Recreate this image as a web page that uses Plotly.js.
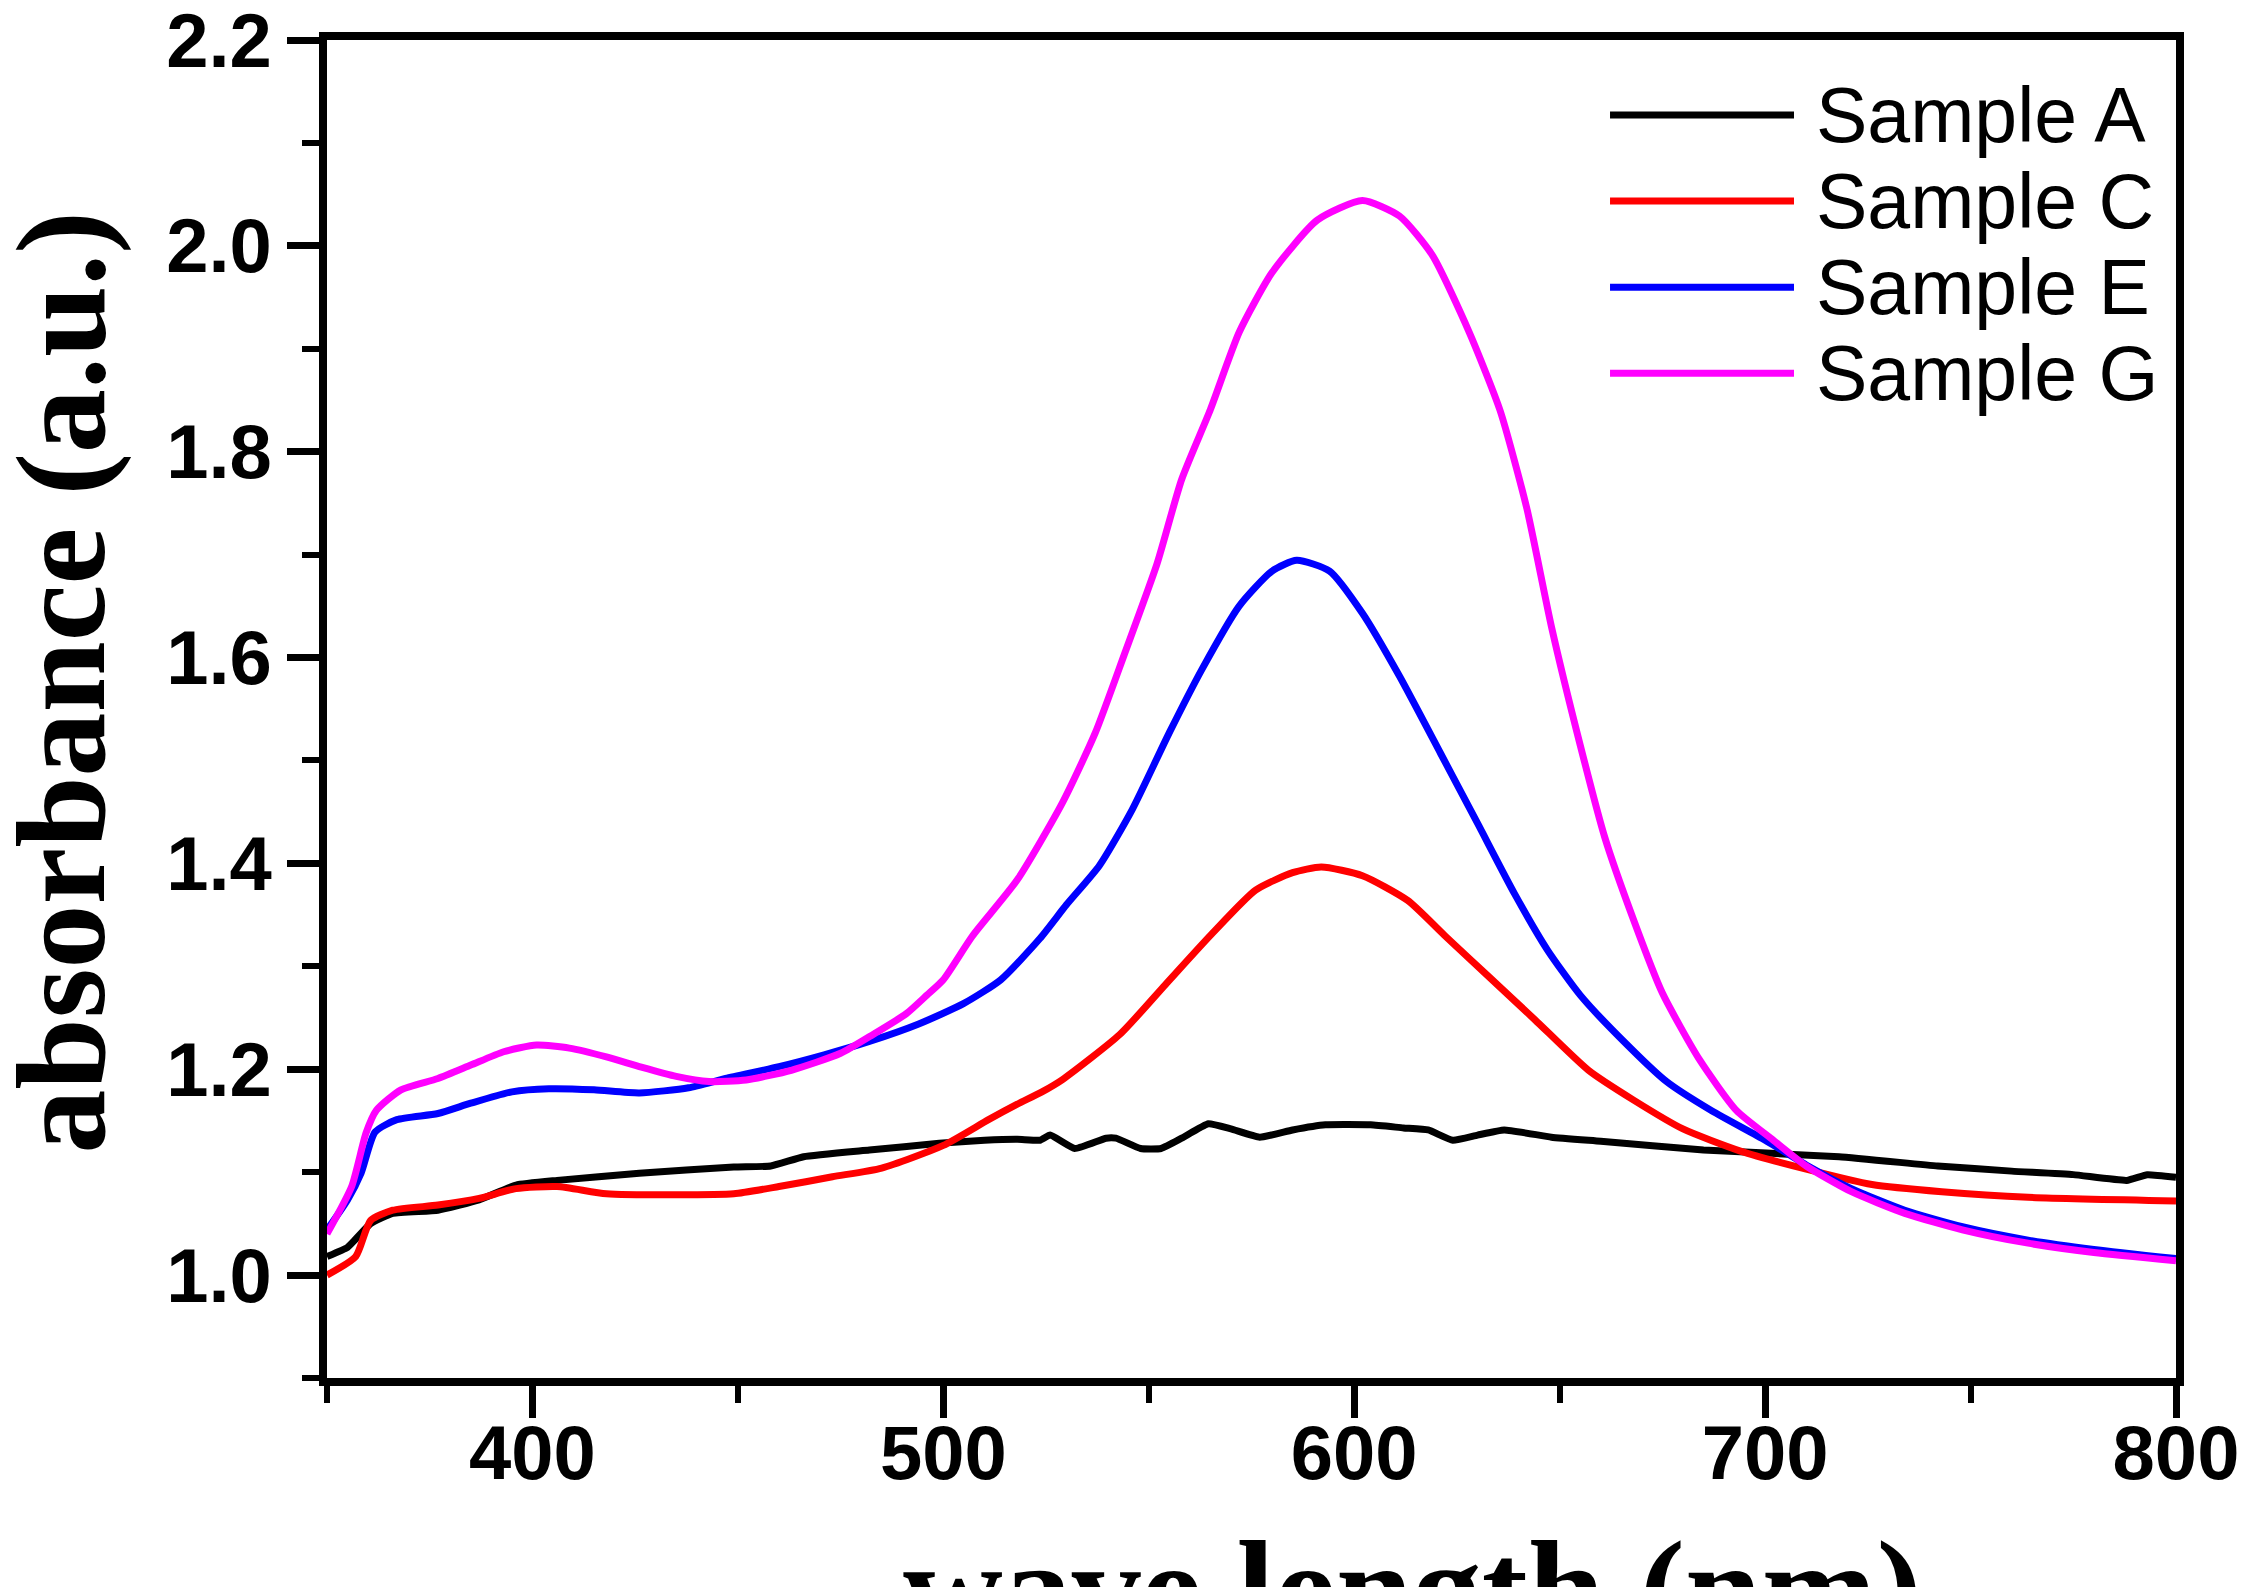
<!DOCTYPE html>
<html>
<head>
<meta charset="utf-8">
<script src="https://cdn.plot.ly/plotly-3.0.1.min.js"></script>
<style>
  html, body { margin: 0; padding: 0; background: #ffffff; }
  #chart { width: 2246px; height: 1587px; }
</style>
</head>
<body>
<div id="chart"></div>
<script>
// UV-Vis absorbance spectra of four samples
const seriesNames  = ['Sample A', 'Sample C', 'Sample E', 'Sample G'];
const seriesColors = ['#000000', '#ff0000', '#0000ff', '#ff00ff'];

// Sample A
const wlA  = [350, 355, 357, 360.6, 366, 377, 387, 396, 406, 426, 449, 458, 466, 482, 499, 510, 518, 523.5, 526, 532,
              539.6, 542, 548, 553, 558, 564.5, 570, 577, 585, 593, 604, 612, 618, 624, 630, 636.5, 648, 660, 685, 718,
              742, 760, 775, 788, 793, 800];
const absA = [1.018, 1.027, 1.035, 1.050, 1.060, 1.063, 1.073, 1.0875, 1.092, 1.099, 1.105, 1.106, 1.115, 1.1215, 1.128,
              1.131, 1.132, 1.131, 1.136, 1.123, 1.133, 1.133, 1.123, 1.123, 1.133, 1.147, 1.142, 1.134, 1.141, 1.146,
              1.146, 1.143, 1.141, 1.131, 1.136, 1.141, 1.134, 1.130, 1.1215, 1.115, 1.106, 1.101, 1.0976, 1.092, 1.0975,
              1.095];

// Sample C
const wlC  = [350, 357, 360.6, 366, 377, 387, 396, 406, 418, 435, 449, 460, 473, 485, 500, 511, 518, 524, 529, 543,
              554, 565, 576, 585, 592, 602, 613, 622, 633, 644, 657, 668, 680, 694, 710, 726, 743, 764, 800];
const absC = [1.000, 1.018, 1.053, 1.063, 1.068, 1.0745, 1.084, 1.086, 1.079, 1.078, 1.079, 1.086, 1.0955, 1.104, 1.126,
              1.151, 1.166, 1.178, 1.190, 1.234, 1.282, 1.330, 1.374, 1.391, 1.3965, 1.388, 1.364, 1.330, 1.289, 1.248,
              1.199, 1.170, 1.142, 1.1205, 1.103, 1.088, 1.081, 1.0755, 1.072];

// Sample E
const wlE  = [350, 355, 358.3, 361.7, 367, 377, 385, 395, 404, 415, 426, 438, 447, 460, 471, 482, 494, 505, 514, 523.5,
              530, 538, 546, 555, 563, 572, 580, 586, 594, 602, 611, 621, 630, 639, 647, 655, 665.5, 676, 687, 700,
              710, 721, 734, 748, 764, 780, 800];
const absE = [1.044, 1.073, 1.099, 1.139, 1.151, 1.157, 1.167, 1.178, 1.181, 1.180, 1.177, 1.182, 1.191, 1.2025, 1.214,
              1.227, 1.244, 1.264, 1.287, 1.327, 1.36, 1.398, 1.4525, 1.527, 1.589, 1.650, 1.684, 1.6945, 1.684, 1.643,
              1.582, 1.507, 1.439, 1.3706, 1.316, 1.272, 1.2274, 1.188, 1.1596, 1.131, 1.107, 1.084, 1.063, 1.047, 1.034,
              1.025, 1.016];

// Sample G
const wlG  = [350, 356, 359.5, 362, 368, 377, 385, 393, 401, 409, 418, 426.5, 435, 443, 452, 463, 475, 483, 491, 496,
              500, 507, 518, 529, 537, 544, 552, 558, 565, 572, 580, 591, 602, 611, 619, 628, 635.5, 642, 648, 655,
              661, 668, 675, 684, 693, 702, 710, 721, 734, 748, 764, 780, 800];
const absG = [1.04, 1.086, 1.138, 1.160, 1.180, 1.191, 1.204, 1.217, 1.2235, 1.2205, 1.212, 1.202, 1.193, 1.188, 1.1895,
              1.199, 1.2155, 1.234, 1.254, 1.272, 1.287, 1.329, 1.384, 1.459, 1.527, 1.6025, 1.691, 1.773, 1.841, 1.916,
              1.974, 2.025, 2.044, 2.029, 1.991, 1.916, 1.84, 1.745, 1.63, 1.515, 1.425, 1.345, 1.274, 1.2095, 1.16,
              1.131, 1.106, 1.081, 1.060, 1.044, 1.031, 1.022, 1.014];

// Axis ticks
const xTickVals = [400, 500, 600, 700, 800];
const yTickVals = [1.0, 1.2, 1.4, 1.6, 1.8, 2.0, 2.2];

const xTitle = 'wave length (nm)';
const yTitle = 'absorbance (a.u.)';

const wavelengths = [wlA, wlC, wlE, wlG];
const absorbances = [absA, absC, absE, absG];

const traces = seriesNames.map((name, i) => ({
  type: 'scatter',
  mode: 'lines',
  name: name,
  x: wavelengths[i],
  y: absorbances[i],
  line: {
    color: seriesColors[i],
    width: 7,
    shape: 'spline',
    smoothing: i === 0 ? 0.4 : 0.6
  },
  showlegend: false,
  hoverinfo: 'x+y+name'
}));

const tickFont = { family: '"Liberation Sans", Arial, sans-serif', size: 76, color: '#000000', weight: 'bold' };
const titleFont = { family: '"Liberation Serif", "Times New Roman", serif', color: '#000000', weight: 'bold' };

// Legend drawn as long line samples with labels at the upper right
const legendLineX0 = 0.6939, legendLineX1 = 0.7934, legendTextX = 0.8042;
const legendTop = 0.9439, legendStep = 0.0643;

const shapes = [];
const annotations = [];
seriesNames.forEach((name, i) => {
  const yy = legendTop - i * legendStep;
  shapes.push({
    type: 'line', xref: 'paper', yref: 'paper',
    x0: legendLineX0, x1: legendLineX1, y0: yy, y1: yy,
    line: { color: seriesColors[i], width: 7 }
  });
  annotations.push({
    xref: 'paper', yref: 'paper', x: legendTextX, y: yy,
    xanchor: 'left', yanchor: 'middle', showarrow: false,
    text: name,
    font: { family: '"Liberation Sans", Arial, sans-serif', size: 77, color: '#000000' }
  });
});

// Axis titles, the x title sits low and partly runs past the bottom edge
annotations.push({
  xref: 'paper', yref: 'paper', x: 0.5873, y: -0.1584,
  xanchor: 'center', yanchor: 'middle', showarrow: false,
  text: xTitle,
  font: Object.assign({ size: 138 }, titleFont)
});
annotations.push({
  xref: 'paper', yref: 'paper', x: -0.1439, y: 0.5198,
  xanchor: 'center', yanchor: 'middle', showarrow: false,
  textangle: -90,
  text: yTitle,
  font: Object.assign({ size: 128 }, titleFont)
});

const layout = {
  width: 2246,
  height: 1587,
  margin: { l: 327, r: 70, t: 40, b: 209, pad: 0 },
  paper_bgcolor: '#ffffff',
  plot_bgcolor: '#ffffff',
  showlegend: false,
  xaxis: {
    range: [350, 800],
    tickmode: 'array',
    tickvals: xTickVals,
    ticktext: xTickVals.map(String),
    ticks: 'outside',
    ticklen: 32,
    tickwidth: 7,
    tickcolor: '#000000',
    ticklabelstandoff: -30,
    ticklabeloverflow: 'allow',
    minor: { dtick: 50, tick0: 350, ticks: 'outside', ticklen: 17, tickwidth: 6, tickcolor: '#000000', showgrid: false },
    showline: true,
    linecolor: '#000000',
    linewidth: 8,
    mirror: true,
    showgrid: false,
    zeroline: false,
    automargin: false,
    tickfont: tickFont
  },
  yaxis: {
    range: [0.9, 2.2],
    tickmode: 'array',
    tickvals: yTickVals,
    ticktext: yTickVals.map(v => v.toFixed(1)),
    ticks: 'outside',
    ticklen: 32,
    tickwidth: 7,
    tickcolor: '#000000',
    ticklabelstandoff: 0,
    ticklabeloverflow: 'allow',
    minor: { dtick: 0.1, tick0: 0.9, ticks: 'outside', ticklen: 17, tickwidth: 6, tickcolor: '#000000', showgrid: false },
    showline: true,
    linecolor: '#000000',
    linewidth: 8,
    mirror: true,
    showgrid: false,
    zeroline: false,
    automargin: false,
    tickfont: tickFont
  },
  shapes: shapes,
  annotations: annotations
};

Plotly.newPlot('chart', traces, layout, { displayModeBar: false, staticPlot: true });
</script>
</body>
</html>
